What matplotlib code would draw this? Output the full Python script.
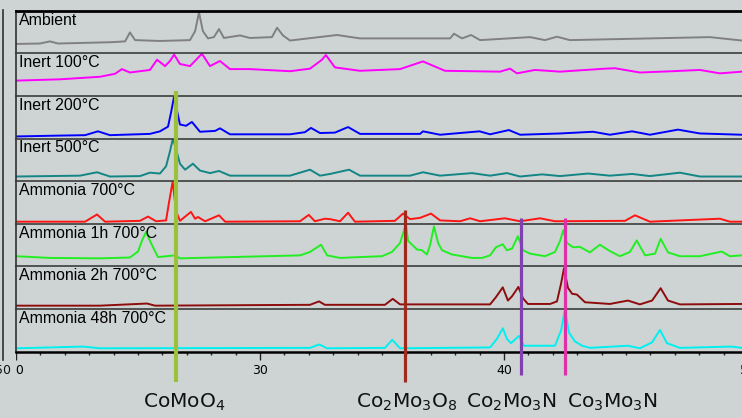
import matplotlib.pyplot as plt
from matplotlib.lines import Line2D
from matplotlib.patches import Rectangle
from matplotlib.transforms import blended_transform_factory
from matplotlib.ticker import MultipleLocator

# sample labels and trace colours, top to bottom
labels = ['Ambient', 'Inert 100°C', 'Inert 200°C', 'Inert 500°C',
          'Ammonia 700°C', 'Ammonia 1h 700°C', 'Ammonia 2h 700°C',
          'Ammonia 48h 700°C']
colors = ['#808080', '#ff00ff', '#0000ff', '#138585',
          '#ff1414', '#22ee22', '#8e0c0c', '#00f0f0']

# 2theta (deg) and intensity (a.u., 100 = panel height)
ambient_tt = [20.0, 20.98, 21.39, 21.72, 23.85, 24.47, 24.67, 24.88, 25.9, 27.13,
              27.34, 27.5, 27.66, 27.87, 28.11, 28.32, 28.52, 29.18, 29.59, 30.49,
              30.7, 30.94, 31.23, 33.16, 34.1, 36.56, 37.79, 37.95, 38.28, 38.65,
              39.02, 41.07, 41.68, 42.17, 42.7, 48.44, 49.75]
ambient_i = [22, 23, 28, 23, 26, 28, 49, 31, 29, 31,
             52, 96, 52, 35, 38, 57, 36, 42, 36, 38,
             60, 42, 30, 43, 35, 35, 35, 46, 35, 43,
             31, 38, 31, 39, 31, 38, 30]

inert100_tt = [20.0, 21.8, 23.44, 24.06, 24.34, 24.67, 25.49, 25.78, 26.11, 26.31,
               26.48, 26.72, 27.13, 27.62, 27.95, 28.36, 28.77, 29.59, 31.23, 32.05,
               32.54, 32.7, 33.07, 34.1, 35.74, 36.68, 37.58, 39.84, 40.25, 40.53,
               41.27, 42.3, 44.14, 44.55, 45.57, 46.89, 48.03, 48.85, 49.75]
inert100_i = [36, 39, 45, 52, 63, 55, 61, 85, 70, 82,
              97, 75, 70, 99, 70, 82, 63, 63, 58, 64,
              85, 96, 67, 59, 63, 81, 59, 57, 64, 53,
              61, 57, 64, 65, 55, 58, 61, 53, 57]

inert200_tt = [20.0, 21.8, 22.83, 23.36, 23.85, 25.49, 25.9, 26.23, 26.35, 26.48,
               26.6, 26.72, 26.97, 27.21, 27.54, 28.16, 28.36, 28.77, 31.23, 31.84,
               32.09, 32.46, 33.07, 33.61, 34.1, 36.56, 36.68, 37.38, 39.0, 39.43,
               40.2, 40.66, 42.3, 43.65, 44.34, 45.25, 45.98, 47.13, 48.03, 49.75]
inert200_i = [5, 7, 8, 17, 8, 11, 17, 28, 60, 99,
              65, 33, 30, 39, 16, 18, 24, 10, 10, 15,
              25, 13, 14, 27, 11, 11, 17, 9, 17, 10,
              20, 9, 12, 16, 9, 17, 9, 21, 12, 9]

inert500_tt = [20.0, 22.62, 23.32, 23.85, 25.08, 25.49, 25.9, 26.15, 26.31, 26.43,
               26.56, 26.72, 26.93, 27.25, 27.54, 27.95, 28.32, 28.77, 31.23, 32.05,
               32.46, 32.87, 33.65, 34.1, 36.15, 36.68, 37.38, 38.69, 39.43, 40.12,
               40.66, 41.56, 42.3, 43.44, 44.34, 45.25, 45.98, 47.21, 48.03, 49.75]
inert500_i = [11, 13, 21, 11, 12, 20, 18, 35, 70, 100,
              75, 41, 27, 41, 25, 19, 24, 13, 13, 27,
              13, 17, 27, 13, 13, 21, 13, 19, 13, 19,
              11, 16, 12, 18, 13, 17, 12, 20, 11, 11]

nh3_tt = [20.0, 22.83, 23.32, 23.65, 25.08, 25.41, 25.74, 26.15, 26.27, 26.42,
          26.56, 26.72, 27.17, 27.34, 27.46, 27.75, 28.32, 28.57, 31.64, 32.0,
          32.25, 32.66, 32.87, 33.28, 33.61, 33.89, 35.53, 35.86, 36.15, 36.56,
          37.01, 37.38, 38.2, 38.61, 39.02, 40.04, 40.66, 41.48, 42.09, 44.96,
          45.37, 45.98, 48.85, 49.26, 49.75]
nh3_i = [5, 5, 22, 5, 7, 17, 6, 8, 50, 99,
         30, 7, 28, 12, 16, 6, 20, 5, 6, 21,
         6, 12, 11, 6, 26, 5, 7, 24, 11, 14,
         24, 8, 6, 13, 6, 13, 6, 13, 6, 7,
         20, 5, 12, 5, 5]

nh3_1h_tt = [20.0, 21.39, 23.44, 24.67, 25.0, 25.16, 25.33, 25.49, 25.66, 25.82,
             26.52, 26.72, 31.64, 32.05, 32.5, 32.75, 33.28, 34.51, 35.0, 35.41,
             35.74, 35.98, 36.07, 36.43, 36.64, 36.84, 36.97, 37.13, 37.3, 37.46,
             37.87, 38.69, 39.1, 39.43, 39.67, 39.95, 40.12, 40.33, 40.57, 40.78,
             41.07, 41.68, 42.09, 42.3, 42.43, 42.58, 42.83, 43.11, 43.52, 43.93,
             44.34, 44.75, 45.16, 45.44, 45.78, 46.19, 46.42, 46.72, 47.21, 48.03,
             48.92, 49.26, 49.75]
nh3_1h_i = [24, 20, 19, 21, 35, 60, 81, 60, 40, 22,
            26, 19, 26, 34, 51, 26, 20, 23, 24, 34,
            55, 99, 60, 40, 38, 28, 50, 94, 55, 38,
            28, 20, 20, 26, 45, 52, 38, 42, 71, 38,
            30, 24, 34, 60, 85, 55, 45, 46, 33, 51,
            36, 24, 34, 61, 26, 30, 65, 33, 24, 24,
            35, 24, 26]

nh3_2h_tt = [20.0, 23.44, 25.37, 25.7, 32.05, 32.42, 32.66, 35.12, 35.44, 35.74,
             39.43, 39.67, 39.95, 40.16, 40.33, 40.59, 40.78, 40.98, 41.89, 42.17,
             42.34, 42.46, 42.62, 42.79, 42.99, 43.32, 44.34, 45.08, 45.57, 46.07,
             46.42, 46.72, 47.21, 49.75]
nh3_2h_i = [8, 8, 13, 8, 10, 18, 10, 10, 24, 11,
            11, 28, 51, 20, 30, 52, 25, 12, 12, 18,
            60, 96, 50, 36, 34, 16, 12, 20, 11, 20,
            49, 20, 11, 12]

nh3_48h_tt = [20.0, 22.75, 23.44, 32.05, 32.43, 32.75, 35.12, 35.42, 35.74, 39.43,
              39.71, 39.95, 40.12, 40.29, 40.61, 40.82, 42.09, 42.34, 42.5, 42.66,
              42.91, 43.2, 43.52, 45.07, 45.57, 46.07, 46.39, 46.68, 47.21, 49.33,
              49.75]
nh3_48h_i = [8, 12, 8, 9, 17, 8, 9, 28, 8, 10,
             30, 55, 30, 20, 37, 14, 14, 50, 100, 45,
             24, 14, 9, 14, 8, 22, 51, 20, 9, 12,
             9]

series_tt = [ambient_tt, inert100_tt, inert200_tt, inert500_tt,
             nh3_tt, nh3_1h_tt, nh3_2h_tt, nh3_48h_tt]
series_i = [ambient_i, inert100_i, inert200_i, inert500_i,
            nh3_i, nh3_1h_i, nh3_2h_i, nh3_48h_i]

# reference phase markers
phases = ['CoMoO$_4$', 'Co$_2$Mo$_3$O$_8$', 'Co$_2$Mo$_3$N', 'Co$_3$Mo$_3$N']
phase_tt = [26.56, 35.96, 40.68, 42.49]
phase_colors = ['#9cc03a', '#9e2a1c', '#8040b0', '#e030a8']

xticks = [20, 30, 40, 50]


def main():
    W, H = 742, 418
    bg = '#ced4d4'
    fx = lambda x: x / W
    fy = lambda y: 1 - y / H

    fig = plt.figure(figsize=(W / 100, H / 100), dpi=100)
    fig.patch.set_facecolor(bg)

    top, ph = 10.7, 42.625
    axes = []
    for k in range(8):
        ax = fig.add_axes([fx(16), fy(top + ph * (k + 1)), fx(748 - 16), ph / H])
        ax.set_facecolor('none')
        ax.plot(series_tt[k], series_i[k], color=colors[k], lw=1.4)
        ax.set_xlim(20, 50)
        ax.set_ylim(0, 100)
        ax.spines['right'].set_visible(False)
        ax.spines['left'].set_color('#303030')
        ax.spines['left'].set_linewidth(1.2)
        if k == 0:
            ax.spines['top'].set_color('black')
            ax.spines['top'].set_linewidth(2)
        else:
            ax.spines['top'].set_color('#3c3c3c')
            ax.spines['top'].set_linewidth(1.2)
        ax.text(0.004, 0.955, labels[k], transform=ax.transAxes, ha='left', va='top',
                fontsize=11.4, family='Liberation Sans', color='black')
        if k < 7:
            ax.spines['bottom'].set_visible(False)
            ax.tick_params(left=False, labelleft=False, bottom=False, labelbottom=False)
        else:
            ax.spines['bottom'].set_color('black')
            ax.spines['bottom'].set_linewidth(1.8)
            ax.tick_params(left=False, labelleft=False)
            ax.set_xticks(xticks)
            ax.xaxis.set_minor_locator(MultipleLocator(1))
            ax.tick_params(axis='x', which='major', direction='out', length=6,
                           width=1, color='#222222', labelsize=9, pad=3)
            ax.tick_params(axis='x', which='minor', direction='out', length=2.5,
                           width=1, color='#222222')
        axes.append(ax)

    # phase marker lines, running past the bottom axis
    tr = blended_transform_factory(axes[-1].transData, fig.transFigure)
    spans = [(90.7, 382), (210, 382), (218, 375), (218, 375)]
    widths = [3, 2.3, 2.3, 2.3]
    for t, c, (y0, y1), w in zip(phase_tt, phase_colors, spans, widths):
        fig.add_artist(Line2D([t, t], [fy(y0), fy(y1)], transform=tr,
                              color=c, lw=w, solid_capstyle='butt', zorder=5))

    label_x = [25.2, 33.93, 38.44, 42.58]
    for name, x in zip(phases, label_x):
        fig.text(x, fy(408), name, transform=tr, ha='left', va='baseline',
                 fontsize=14.5, color='#111111')

    # neighbouring chart peeking in on the left
    fig.add_artist(Rectangle((0, fy(388)), fx(16.2), (388 - 354) / H,
                             transform=fig.transFigure, facecolor=bg,
                             edgecolor='none', zorder=10))
    fig.add_artist(Line2D([fx(3), fx(3)], [fy(10), fy(360)], transform=fig.transFigure,
                          color='#303030', lw=1.2, zorder=11))
    fig.text(fx(3.5), fy(370), '50', ha='center', va='center', fontsize=9,
             color='#111111', zorder=11)

    fig.savefig('out.png', dpi=100, facecolor=bg)


if __name__ == '__main__':
    main()
